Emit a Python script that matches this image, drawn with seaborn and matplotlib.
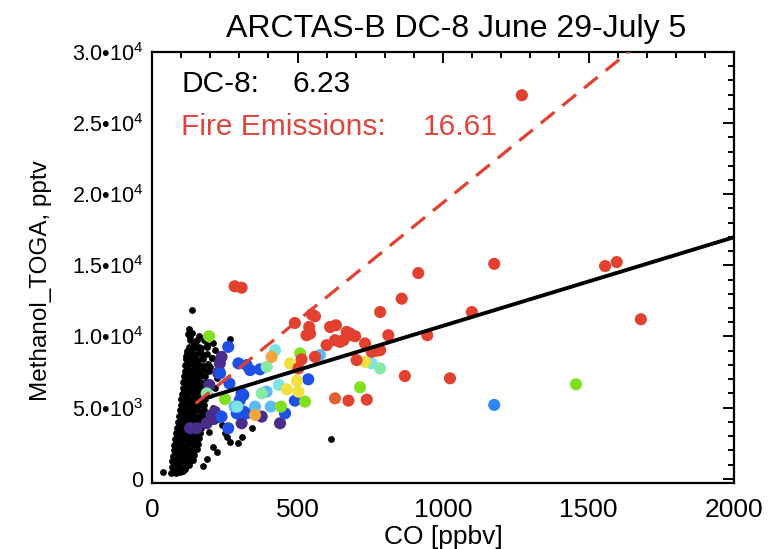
import matplotlib
matplotlib.use("Agg")
import matplotlib.pyplot as plt
from matplotlib import font_manager
from matplotlib.ticker import MultipleLocator
import pandas as pd
import seaborn as sns

# ---- background DC-8 samples (CO ppbv, methanol pptv) ----
co_bg = [
    66, 74, 81, 89, 97, 105, 114,
    68, 76, 84, 92, 100, 109, 118, 127,
    70, 78, 86, 94, 103, 112, 121, 131, 140,
    72, 80, 88, 96, 105, 114, 123, 133, 144,
    74, 82, 90, 98, 107, 116, 125, 135, 146, 153,
    76, 84, 92, 100, 109, 118, 127, 137, 148, 157,
    79, 87, 95, 103, 112, 121, 130, 140, 151, 160,
    82, 90, 98, 106, 115, 124, 133, 143, 154, 164,
    85, 93, 101, 109, 118, 127, 136, 146, 157, 167,
    89, 97, 105, 113, 122, 131, 140, 150, 161, 171,
    92, 100, 108, 116, 125, 134, 143, 153, 164, 174,
    95, 103, 111, 119, 128, 137, 146, 156, 167, 177,
    98, 106, 114, 122, 131, 140, 149, 159, 170, 179,
    100, 108, 116, 124, 133, 142, 151, 161, 172, 181,
    103, 111, 119, 127, 136, 145, 154, 164, 175,
    105, 113, 121, 129, 138, 147, 157, 168, 180,
    107, 115, 123, 132, 141, 150, 160, 172, 185,
    109, 118, 127, 136, 146, 156, 168, 182,
    112, 121, 131, 141, 152, 164, 178, 195,
    115, 125, 136, 148, 161, 176, 192,
    118, 130, 143, 158, 175, 205,
    121, 134, 150, 168, 190,
    126, 141, 160, 188,
    130, 152, 180, 211,
    125, 136, 160, 136, 39, 268, 216, 205, 200, 165, 251, 268, 297, 308,
    343, 209, 222, 614, 257, 196, 200, 210, 198, 228, 190, 176, 240, 215,
    225, 185, 172, 154, 159, 188,
    120, 145, 170, 135, 155, 128, 150, 142, 117, 132,
]
meoh_bg = [
    430, 520, 380, 610, 470, 560, 650,
    800, 870, 760, 900, 820, 780, 880, 950,
    1230, 1150, 1270, 1180, 1250, 1300, 1160, 1240, 1350,
    1620, 1580, 1660, 1550, 1640, 1600, 1680, 1570, 1650,
    2010, 2080, 1960, 2050, 1990, 2070, 1950, 2040, 2000, 2100,
    2380, 2430, 2360, 2450, 2400, 2350, 2440, 2410, 2370, 2460,
    2790, 2840, 2760, 2820, 2850, 2770, 2810, 2860, 2780, 2830,
    3210, 3170, 3240, 3190, 3160, 3230, 3200, 3250, 3180, 3220,
    3590, 3640, 3570, 3620, 3650, 3580, 3610, 3560, 3630, 3600,
    4010, 3970, 4040, 3990, 3960, 4030, 4000, 4050, 3980, 4020,
    4390, 4440, 4370, 4420, 4450, 4380, 4410, 4360, 4430, 4400,
    4810, 4770, 4840, 4790, 4760, 4830, 4800, 4850, 4780, 4820,
    5190, 5240, 5170, 5220, 5250, 5180, 5210, 5160, 5230, 5200,
    5610, 5570, 5640, 5590, 5560, 5630, 5600, 5650, 5580, 5620,
    5990, 6040, 5970, 6020, 6050, 5980, 6010, 5960, 6030,
    6410, 6370, 6440, 6390, 6360, 6430, 6400, 6450, 6380,
    6790, 6840, 6770, 6820, 6850, 6780, 6810, 6760, 6830,
    7210, 7170, 7240, 7190, 7160, 7230, 7200, 7250,
    7590, 7640, 7570, 7620, 7650, 7580, 7610, 7560,
    8010, 7970, 8040, 7990, 8030, 7960, 8050,
    8420, 8380, 8440, 8360, 8410, 8460,
    8790, 8840, 8760, 8830, 8800,
    9250, 9200, 9290, 9230,
    9720, 9680, 9750, 9510,
    10200, 10250, 10000, 11840, 440, 9790, 9040, 8460, 7870, 7640, 3200, 2610, 2500, 2960,
    3550, 2260, 1910, 2800, 2960, 3300, 4300, 5000, 5900, 4200, 1400, 900, 3800, 6400,
    7100, 9900, 8700, 9740, 9160, 9390,
    9000, 9500, 9200, 8600, 8150, 10500, 8250, 7350, 8600, 9950,
]

# ---- fire-influenced samples, grouped by colour class ----
fire_co = [
    239, 233, 231, 197, 205, 131, 154, 188, 213, 308, 377, 440, 216, 228,
    262, 297, 325, 337, 371, 537, 491, 457, 308, 266, 234, 262, 239, 314, 325, 302, 314, 291,
    1176,
    577, 394, 354, 408, 284,
    423, 436, 293, 755,
    394, 377, 784, 188,
    196, 509, 251, 526, 715, 1457, 443,
    474, 498, 503, 463, 732,
    411, 354,
    629,
    1271, 284, 308, 491, 549, 560, 540, 543, 531, 612, 632, 669, 686, 646, 680, 698,
    600, 629, 658, 732, 755, 784, 703, 514, 503, 560, 784, 915, 858, 812, 1099, 946,
    770, 869, 1024, 738, 675, 1176, 1557, 1597, 1680,
]
fire_meoh = [
    8570, 8110, 7520, 6590, 4480, 3550, 3550, 3900, 4200, 3900, 4370, 3900, 4700, 7410,
    9270, 8110, 7990, 7640, 7690, 6990, 5490, 4600, 6010, 6700, 7410, 3550, 4370, 4720, 4600, 5540, 5890, 4600,
    5190,
    8690, 6120, 5070, 5070, 5070,
    9040, 6590, 5070, 8110,
    7870, 6010, 7760, 6000,
    10020, 8810, 5600, 5420, 6430, 6640, 5070,
    8110, 6890, 6120, 6290, 8220,
    8570, 4480,
    5650,
    26960, 13530, 13430, 10950, 11560, 11420, 10670, 10210, 10090, 10670, 10790, 10320, 10090, 9620, 10210, 10020,
    9390, 9740, 9740, 9510, 8920, 9040, 8340, 8390, 7760, 8570, 11720, 14460, 12660, 10090, 11720, 10090,
    8990, 7220, 7060, 5560, 5490, 15110, 14950, 15230, 11210,
]
fire_class = (
    ["purple"] * 14 + ["blue"] * 18 + ["mid blue"] + ["light blue"] * 5
    + ["cyan"] * 4 + ["aqua"] * 4 + ["green"] * 7 + ["yellow"] * 5
    + ["orange"] * 2 + ["dark orange"] + ["red"] * 41
)
class_order = ["purple", "blue", "mid blue", "light blue", "cyan", "aqua",
               "green", "yellow", "orange", "dark orange", "red"]
class_colors = {
    "purple": "#4a2c8c", "blue": "#1f50e6", "mid blue": "#2f86f2",
    "light blue": "#5cbaf4", "cyan": "#7ae4e6", "aqua": "#86eaa6",
    "green": "#7ee020", "yellow": "#f0e040", "orange": "#f2a63a",
    "dark orange": "#e4602e", "red": "#e2412f",
}

# ---- fitted enhancement ratios ----
slope_dc8, icpt_dc8 = 6.23, 4520
slope_fire, icpt_fire = 16.61, 2800
fit_co = [150, 2000]

y_ticks = [0, 5000, 10000, 15000, 20000, 25000, 30000]
y_ticklabels = ["0", r"$\mathregular{5.0•10^{3}}$", r"$\mathregular{1.0•10^{4}}$",
                r"$\mathregular{1.5•10^{4}}$", r"$\mathregular{2.0•10^{4}}$",
                r"$\mathregular{2.5•10^{4}}$", r"$\mathregular{3.0•10^{4}}$"]
x_ticks = [0, 500, 1000, 1500, 2000]

sns.set_theme(style="white")
plt.rcParams["font.family"] = ["Liberation Sans", "DejaVu Sans"]
plt.rcParams["mathtext.fontset"] = "custom"
plt.rcParams["mathtext.rm"] = "Liberation Sans"
for key in ("text.color", "axes.labelcolor", "xtick.color", "ytick.color",
            "axes.edgecolor"):
    plt.rcParams[key] = "black"

# narrow face for the exponent-style y tick labels, when available
installed = {f.name for f in font_manager.fontManager.ttflist}
narrow = next((f for f in ("Liberation Sans Narrow", "DejaVu Sans Condensed")
               if f in installed), "Liberation Sans")

W, H = 769, 549
fig = plt.figure(figsize=(W / 100, H / 100), dpi=100)
L, R, T, B = 152, 734, 52, 483
ax = fig.add_axes([L / W, 1 - B / H, (R - L) / W, (B - T) / H])

bg = pd.DataFrame({"co": co_bg, "meoh": meoh_bg})
fire = pd.DataFrame({"co": fire_co, "meoh": fire_meoh, "cls": fire_class})

sns.scatterplot(data=bg, x="co", y="meoh", color="black", s=24,
                linewidth=0, ax=ax, zorder=2)
sns.scatterplot(data=fire, x="co", y="meoh", hue="cls", hue_order=class_order,
                palette=class_colors, s=76, linewidth=0, legend=False,
                ax=ax, zorder=3)

fits = pd.DataFrame({
    "co": fit_co,
    "dc8": [slope_dc8 * c + icpt_dc8 for c in fit_co],
    "fire": [slope_fire * c + icpt_fire for c in fit_co],
})
sns.lineplot(data=fits, x="co", y="dc8", color="black", lw=2.8, ax=ax, zorder=4)
sns.lineplot(data=fits, x="co", y="fire", color="#e2412f", lw=2.3,
             linestyle=(0, (5.5, 3.2)), ax=ax, zorder=4)

ax.set_xlim(0, 2000)
ax.set_ylim(-300, 30000)
ax.set_xticks(x_ticks)
ax.set_xticklabels([str(v) for v in x_ticks])
ax.set_yticks(y_ticks)
ax.set_yticklabels(y_ticklabels)
ax.xaxis.set_minor_locator(MultipleLocator(100))
ax.yaxis.set_minor_locator(MultipleLocator(1000))
ax.tick_params(which="both", direction="in", top=True, right=True,
               width=1.4, color="black")
ax.tick_params(which="major", length=8)
ax.tick_params(which="minor", length=4)
ax.tick_params(axis="x", which="major", labelsize=19, pad=11)
ax.tick_params(axis="y", which="major", labelsize=15.5, pad=6)
for lab in ax.get_yticklabels():
    lab.set_fontfamily([narrow, "Liberation Sans", "DejaVu Sans"])
for sp in ax.spines.values():
    sp.set_visible(True)
    sp.set_color("black")
    sp.set_linewidth(1.6)

ax.set_xlabel("CO [ppbv]", fontsize=19, labelpad=2)
ax.set_ylabel("Methanol_TOGA, pptv", fontsize=17.5)
ax.yaxis.set_label_coords(-0.172, 0.47)

fig.text(456 / W, 1 - 37 / H, "ARCTAS-B DC-8 June 29-July 5",
         ha="center", va="baseline", fontsize=23)
fig.text(181 / W, 1 - 92 / H, "DC-8:", ha="left", va="baseline", fontsize=21.5)
fig.text(292 / W, 1 - 92 / H, f"{slope_dc8:.2f}", ha="left", va="baseline",
         fontsize=21.5)
fig.text(181 / W, 1 - 135 / H, "Fire Emissions:", ha="left", va="baseline",
         fontsize=21.5, color="#e0443a")
fig.text(423 / W, 1 - 135 / H, f"{slope_fire:.2f}", ha="left", va="baseline",
         fontsize=21.5, color="#e0443a")

fig.savefig("out.png", dpi=100)
